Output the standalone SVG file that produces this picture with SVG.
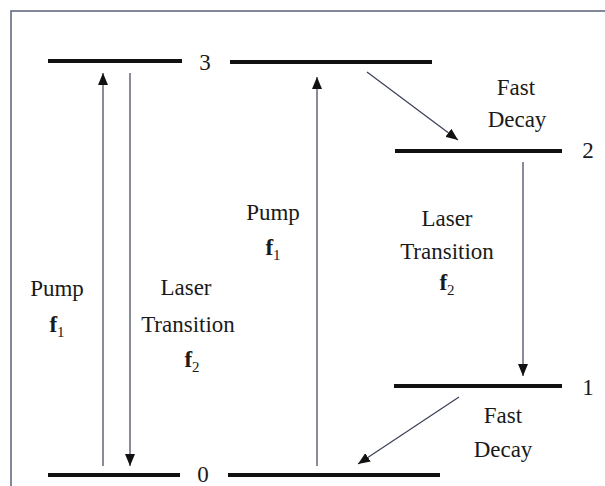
<svg xmlns="http://www.w3.org/2000/svg" width="605" height="486" viewBox="0 0 605 486">
<style>
.frame{fill:none;stroke:#5a6078;stroke-width:1.5}
.lvl{stroke:#111;stroke-width:4;fill:none}
.conn{stroke:#3a3f55;stroke-width:1.2;fill:none}
text{font-family:"Liberation Serif","Times New Roman",serif;font-size:23px;fill:#1a1a1a;text-anchor:middle}
.f{font-weight:bold}
.sub{font-size:15px;font-weight:normal}
</style>
<defs>
<marker id="ah" markerUnits="userSpaceOnUse" markerWidth="12" markerHeight="10" refX="12" refY="5" orient="auto">
<path d="M0,0 L12,5 L0,10 z" fill="#111"/>
</marker>
</defs>
<rect class="frame" x="11" y="11" width="620" height="500"/>
<g id="level3">
<line class="lvl" x1="48" y1="61" x2="182" y2="61"/>
<line class="lvl" x1="230" y1="62" x2="432" y2="62"/>
<text x="205" y="70">3</text>
</g>
<g id="level2">
<line class="lvl" x1="395" y1="151" x2="562" y2="151"/>
<text x="588" y="158">2</text>
</g>
<g id="level1">
<line class="lvl" x1="394" y1="386" x2="562" y2="386"/>
<text x="588" y="395">1</text>
</g>
<g id="level0">
<line class="lvl" x1="48" y1="475" x2="180" y2="475"/>
<line class="lvl" x1="228" y1="475" x2="440" y2="475"/>
<text x="203" y="482">0</text>
</g>
<g id="connectors">
<line class="conn" x1="103" y1="466" x2="103" y2="73" marker-end="url(#ah)"/>
<line class="conn" x1="130" y1="73" x2="130" y2="466" marker-end="url(#ah)"/>
<line class="conn" x1="317" y1="466" x2="317" y2="77" marker-end="url(#ah)"/>
<line class="conn" x1="523" y1="162" x2="523" y2="376" marker-end="url(#ah)"/>
<line class="conn" x1="367" y1="72" x2="458" y2="140" marker-end="url(#ah)"/>
<line class="conn" x1="459" y1="397" x2="358" y2="464" marker-end="url(#ah)"/>
</g>
<g id="label-pump-left">
<text x="57" y="296">Pump</text>
<text x="57" y="332" class="f">f<tspan class="sub" dy="5">1</tspan></text>
</g>
<g id="label-laser-left">
<text x="186" y="295">Laser</text>
<text x="188" y="332">Transition</text>
<text x="192" y="367" class="f">f<tspan class="sub" dy="5">2</tspan></text>
</g>
<g id="label-pump-mid">
<text x="273" y="220">Pump</text>
<text x="273" y="255" class="f">f<tspan class="sub" dy="5">1</tspan></text>
</g>
<g id="label-laser-right">
<text x="447" y="226">Laser</text>
<text x="447" y="259">Transition</text>
<text x="447" y="290" class="f">f<tspan class="sub" dy="5">2</tspan></text>
</g>
<g id="label-decay-upper">
<text x="516" y="95">Fast</text>
<text x="517" y="127">Decay</text>
</g>
<g id="label-decay-lower">
<text x="503" y="423">Fast</text>
<text x="503" y="457">Decay</text>
</g>
</svg>
